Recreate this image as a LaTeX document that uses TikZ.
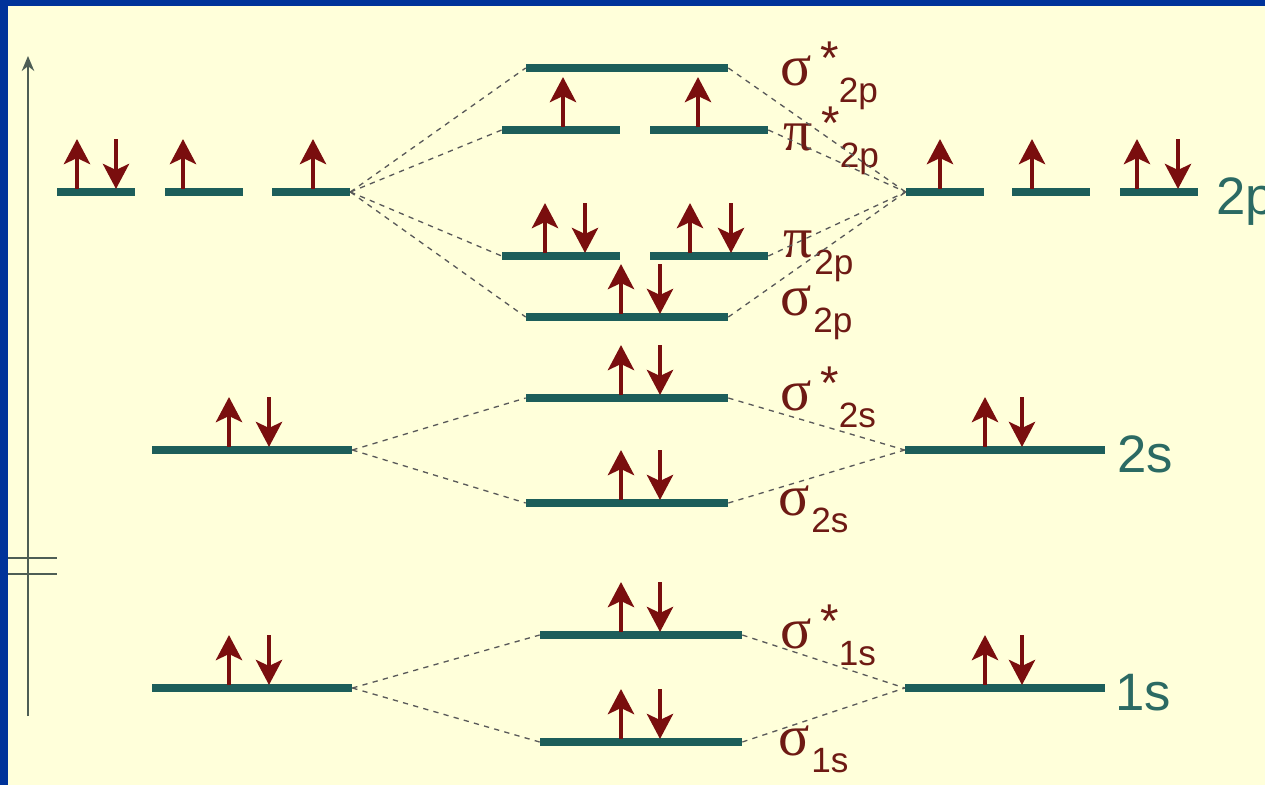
\documentclass[tikz,border=0pt]{standalone}
\usepackage{fontspec}
\setmainfont{Liberation Sans}
\newfontfamily\greekfont{Liberation Serif}
\usepackage{tikz}
\usetikzlibrary{arrows.meta}
\definecolor{FrameBlue}{HTML}{00339A}
\definecolor{Cream}{HTML}{FFFFDA}
\definecolor{LevelTeal}{HTML}{1D5E5A}
\definecolor{SpinRed}{HTML}{7A0E0E}
\definecolor{LabelRed}{HTML}{6E1A14}
\definecolor{AOTeal}{HTML}{2B6A63}
\definecolor{AxisGray}{HTML}{4E5E55}

\newcommand{\subsz}{\fontsize{20}{22}\selectfont}
\newcommand{\starsz}{\fontsize{27}{29}\selectfont}
\newcommand{\grsz}{\fontsize{33}{35}\selectfont\greekfont}
\newcommand{\orb}[2]{{\grsz #1}\hspace{1pt}\raisebox{-10pt}{\subsz #2}}
\newcommand{\orbstar}[2]{{\grsz #1}\hspace{5pt}\raisebox{6pt}{\starsz *}\raisebox{-10pt}{\subsz #2}}
\newcommand{\spinup}[2]{\draw[spin] (#1,#2-3) -- (#1,#2-53);}
\newcommand{\spindown}[2]{\draw[spin] (#1,#2-53) -- (#1,#2-3);}

\tikzset{
  lvl/.style={rectangle, fill=LevelTeal, inner sep=0pt, minimum height=4pt},
  aop/.style={lvl, minimum width=1.56cm},
  aos/.style={lvl, minimum width=4cm},
  mos/.style={lvl, minimum width=4.04cm},
  mop/.style={lvl, minimum width=2.36cm},
  corr/.style={draw=black!65, line width=0.75pt, dash pattern=on 3pt off 3pt},
  spin/.style={SpinRed, line width=2.8pt, -{Stealth[length=0.5cm, width=0.52cm, inset=0.12cm]}},
  molab/.style={LabelRed, inner sep=0pt, anchor=base west},
  aolab/.style={AOTeal, inner sep=0pt, anchor=base west, font=\fontsize{30}{32}\selectfont}
}

\begin{document}
\begin{tikzpicture}[x=0.02cm, y=-0.02cm]
  \useasboundingbox (0,0) rectangle (1265,785);
  % frame and background
  \fill[FrameBlue] (0,0) rectangle (1265,785);
  \fill[Cream] (8,6) rectangle (1265,785);

  % energy axis
  \draw[AxisGray, line width=1.2pt, -{Stealth[length=0.3cm, width=0.25cm]}] (28,716) -- (28,56);
  \draw[AxisGray, line width=1.2pt] (8,558) -- (57,558) (8,574) -- (57,574);

  % atomic orbitals, left atom
  \node[aop] (L2pa) at (96,192) {};
  \node[aop] (L2pb) at (204,192) {};
  \node[aop] (L2pc) at (311,192) {};
  \node[aos] (L2s) at (252,450) {};
  \node[aos] (L1s) at (252,688) {};

  % atomic orbitals, right atom
  \node[aop] (R2pa) at (945,192) {};
  \node[aop] (R2pb) at (1051,192) {};
  \node[aop] (R2pc) at (1159,192) {};
  \node[aos] (R2s) at (1005,450) {};
  \node[aos] (R1s) at (1005,688) {};

  \node[aolab] (t2p) at (1216,214) {2p};
  \node[aolab] (t2s) at (1117,472) {2s};
  \node[aolab] (t1s) at (1115,710) {1s};

  % molecular orbitals
  \node[mos] (sgs2p) at (627,68) {};
  \node[mop] (pis2pa) at (561,130) {};
  \node[mop] (pis2pb) at (709,130) {};
  \node[mop] (pi2pa) at (561,256) {};
  \node[mop] (pi2pb) at (709,256) {};
  \node[mos] (sg2p) at (627,317) {};
  \node[mos] (sgs2s) at (627,398) {};
  \node[mos] (sg2s) at (627,503) {};
  \node[mos] (sgs1s) at (641,635) {};
  \node[mos] (sg1s) at (641,742) {};

  \node[molab] (lsgs2p) at (780,85) {\orbstar{σ}{2p}};
  \node[molab] (lpis2p) at (783,150) {\orbstar{π}{2p}};
  \node[molab] (lpi2p) at (783,257) {\orb{π}{2p}};
  \node[molab] (lsg2p) at (780,315) {\orb{σ}{2p}};
  \node[molab] (lsgs2s) at (780,410) {\orbstar{σ}{2s}};
  \node[molab] (lsg2s) at (778,515) {\orb{σ}{2s}};
  \node[molab] (lsgs1s) at (780,648) {\orbstar{σ}{1s}};
  \node[molab] (lsg1s) at (778,755) {\orb{σ}{1s}};

  % correlation lines
  \foreach \m in {sgs2p,pis2pa,pi2pa,sg2p} \draw[corr] (L2pc.east) -- (\m.west);
  \foreach \m in {sgs2p,pis2pb,pi2pb,sg2p} \draw[corr] (\m.east) -- (R2pa.west);
  \foreach \m in {sgs2s,sg2s} {
    \draw[corr] (L2s.east) -- (\m.west);
    \draw[corr] (\m.east) -- (R2s.west);
  }
  \foreach \m in {sgs1s,sg1s} {
    \draw[corr] (L1s.east) -- (\m.west);
    \draw[corr] (\m.east) -- (R1s.west);
  }

  % electrons
  \spinup{77}{192} \spindown{116}{192} \spinup{183}{192} \spinup{313}{192}
  \spinup{940}{192} \spinup{1032}{192} \spinup{1137}{192} \spindown{1178}{192}
  \spinup{563}{130} \spinup{698}{130}
  \spinup{545}{256} \spindown{585}{256} \spinup{690}{256} \spindown{731}{256}
  \foreach \y in {317,398,503,635,742} {\spinup{621}{\y} \spindown{660}{\y}}
  \foreach \y in {450,688} {
    \spinup{229}{\y} \spindown{269}{\y}
    \spinup{985}{\y} \spindown{1022}{\y}
  }
\end{tikzpicture}
\end{document}
